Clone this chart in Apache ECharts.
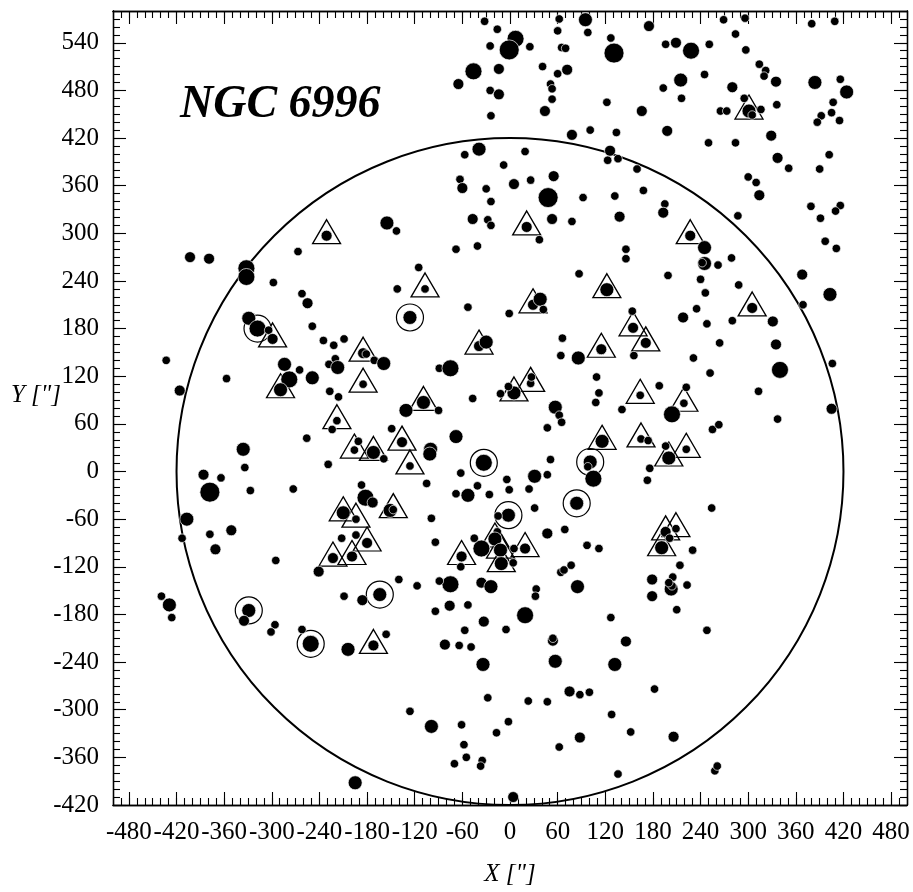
<!DOCTYPE html>
<html><head><meta charset="utf-8">
<script src="https://cdn.jsdelivr.net/npm/echarts@6/dist/echarts.min.js"></script>
<style>html,body{margin:0;padding:0;background:#fff}#c{width:913px;height:892px}</style>
</head><body><div id="c"></div>
<script>
// ---------- data ----------
const titleText = 'NGC 6996';
const xName = 'X ["]';
const yName = 'Y ["]';
const xRange = [-500, 500];
const yRange = [-420, 580];
const xTickLabels = [-480,-420,-360,-300,-240,-180,-120,-60,0,60,120,180,240,300,360,420,480];
const yTickLabels = [-420,-360,-300,-240,-180,-120,-60,0,60,120,180,240,300,360,420,480,540];
const fieldCircle = [0, 0, 420]; // centre x, centre y, radius (arcsec)

// stars: [x, y, magnitude class] (brighter = bigger dot)
const stars = [
[-231,297,13],[-403,270,13],[-379,268,13],[-332,256,11],[-332,245,11],[-267,277,14],[-298,238,14],
[-32,567,14],[-16,557,14],[62,570,14],[95,569,12],[60,555,14],[98,553,14],[7,545,11],[-1,531,10],
[-25,536,14],[25,535,14],[65,534,14],[70,533,14],[131,527,10],[127,546,14],[-46,504,11],[-14,507,13],
[41,510,14],[72,506,13],[60,501,14],[-65,488,13],[51,488,14],[53,482,14],[-25,480,14],[-14,475,13],
[53,469,14],[44,454,13],[-24,448,14],[122,465,14],[166,454,13],[78,424,13],[101,430,14],[134,427,14],
[-39,406,12],[-57,399,14],[19,403,14],[126,404,13],[123,392,14],[136,394,14],[160,381,14],[-8,386,14],
[-63,368,14],[-60,357,13],[-30,356,14],[5,362,13],[26,367,14],[55,372,13],[48,345,10],[-24,340,14],
[92,345,14],[132,347,14],[168,354,14],[-155,313,12],[-143,303,14],[-47,318,13],[-28,317,14],[-24,310,14],
[21,308,13],[53,318,13],[78,315,14],[138,321,13],[37,292,14],[-68,280,14],[-41,284,14],[146,280,14],
[146,268,14],[-115,257,14],[87,249,14],
[175,561,13],[269,569,14],[296,571,14],[380,564,14],[409,567,14],[196,538,14],[209,540,13],[228,530,11],
[251,538,14],[284,551,14],[297,531,14],[314,513,14],[322,505,14],[320,498,14],[335,491,13],[245,500,14],
[215,493,12],[193,483,14],[216,470,14],[280,484,13],[295,470,14],[301,454,12],[305,449,14],[316,456,14],
[265,454,14],[273,454,14],[336,462,14],[384,490,12],[416,494,14],[424,478,12],[407,465,14],[405,452,14],
[392,448,14],[387,440,14],[415,442,14],[198,429,13],[250,414,14],[284,414,14],[329,423,13],[337,395,13],
[351,382,14],[402,399,14],[390,381,14],[300,371,14],[310,364,14],[314,348,13],[195,337,14],[193,326,13],
[287,322,14],[379,334,14],[416,335,14],[410,328,14],[391,319,14],[397,290,14],[411,281,14],[227,297,13],
[245,282,12],[245,262,12],[242,263,14],[262,260,14],[279,269,14],[199,247,14],[240,242,14],[288,235,14],
[368,248,13],
[-262,224,14],[-255,212,13],[-249,183,14],[-329,193,12],[-318,180,11],[-304,178,14],[-299,167,13],
[-235,165,14],[-222,159,14],[-209,167,14],[-185,149,13],[-181,148,14],[-171,140,14],[-284,135,12],
[-265,128,14],[-278,116,11],[-249,118,12],[-289,103,12],[-228,135,14],[-220,142,14],[-217,131,12],
[-227,101,14],[-216,94,14],[-185,110,14],[-357,117,14],[-433,140,14],[-416,102,13],[-218,64,14],
[-224,53,14],[-256,42,14],[-336,28,12],[-334,5,14],[-386,-4,13],[-364,-8,14],[-378,-26,10],[-327,-24,14],
[-273,-22,14],[-229,9,14],[-196,27,14],[-191,38,14],[-172,24,12],[-187,-17,14],[-182,-33,11],[-173,-39,13],
[-210,-52,12],[-194,-60,14],[-407,-60,12],[-378,-79,14],[-351,-74,13],[-413,-84,14],[-371,-98,13],
[-212,-84,14],[-194,-80,14],[-180,-90,13],[-223,-109,13],[-199,-107,13],
[-142,230,14],[-107,230,14],[29,210,13],[38,217,12],[42,204,14],[122,229,12],[-53,207,14],[-1,199,14],
[-126,194,12],[154,202,14],[155,181,13],[156,146,14],[-39,158,13],[-30,163,12],[-159,136,12],[-89,130,14],
[-75,130,11],[115,154,13],[64,146,14],[86,143,12],[66,168,14],[109,119,14],[112,99,14],[108,87,14],
[141,78,14],[164,96,14],[-47,92,14],[5,99,12],[-2,107,14],[-12,98,14],[26,111,14],[27,119,14],[57,81,12],
[62,71,14],[65,62,14],[47,55,14],[-109,87,12],[-131,77,12],[-90,77,14],[-149,54,14],[-136,37,13],
[-68,44,12],[-100,28,12],[-101,22,12],[-126,7,14],[-159,16,14],[-33,11,11],[101,12,12],[98,6,14],
[105,-9,11],[116,38,12],[165,41,14],[51,15,14],[-62,-2,14],[-105,-15,14],[-41,-18,14],[-68,-28,14],
[-53,-30,12],[-26,-29,14],[-4,-10,14],[-1,-23,14],[24,-22,14],[31,-6,12],[47,-4,14],[-151,-49,12],
[-147,-48,14],[84,-40,12],[-2,-55,12],[-15,-56,14],[31,-46,14],[-99,-59,14],[47,-78,13],[69,-73,14],
[97,-93,14],[112,-97,14],[-94,-89,14],[-16,-76,14],[-19,-85,12],[-36,-97,11],[-45,-84,14],[-12,-99,12],
[19,-97,13],[5,-97,14],[-61,-107,13],
[246,225,14],[218,194,13],[235,205,14],[248,186,14],[280,190,14],[305,206,13],[331,189,13],[335,160,13],
[264,162,14],[231,143,14],[252,124,14],[340,128,11],[313,101,14],[369,210,14],[403,223,12],[406,136,14],
[405,79,13],[337,66,14],[171,162,13],[188,108,14],[222,106,14],[219,86,14],[204,72,11],[255,53,14],
[263,59,14],[174,39,14],[196,32,14],[200,17,12],[222,28,14],[176,4,14],[173,-11,14],[254,-46,14],
[196,-76,13],[209,-72,14],[201,-84,14],[191,-96,12],[230,-99,14],
[-295,-112,14],[-241,-126,13],[-439,-157,14],[-429,-168,12],[-426,-184,14],[-329,-175,12],[-335,-188,13],
[-296,-193,14],[-301,-202,14],[-262,-199,14],[-251,-217,11],[-204,-224,12],[-172,-219,13],[-209,-157,14],
[-186,-162,13],[-164,-155,12],[-195,-392,12],
[-62,-120,14],[-11,-116,12],[4,-115,14],[-140,-136,14],[-117,-144,14],[-75,-142,11],[-89,-138,14],
[-36,-140,13],[-24,-145,12],[-76,-169,13],[-53,-168,14],[-94,-176,14],[-33,-189,13],[-57,-200,14],
[-5,-199,14],[19,-181,11],[33,-148,14],[32,-157,14],[64,-127,14],[68,-124,14],[77,-118,14],[85,-145,12],
[127,-184,14],[146,-214,13],[132,-243,12],[54,-213,13],[54,-210,14],[57,-239,12],[-82,-218,13],
[-64,-219,14],[-49,-221,14],[-34,-243,12],[-156,-205,14],[75,-277,13],[88,-281,14],[100,-278,14],
[-28,-285,14],[23,-289,14],[47,-290,14],[-126,-302,14],[-99,-321,12],[-61,-319,14],[-2,-315,14],
[-17,-329,14],[128,-306,14],[152,-328,14],[88,-335,13],[62,-347,14],[-58,-344,14],[-55,-360,14],
[-70,-368,14],[-35,-364,14],[-37,-371,14],[136,-381,14],[4,-410,13],
[214,-118,14],[179,-136,13],[205,-133,14],[203,-148,12],[204,-144,14],[200,-140,14],[223,-143,14],
[179,-157,13],[210,-174,14],[248,-200,14],[182,-274,14],[206,-334,13],[258,-377,14],[261,-371,14]
];

// stars marked with an open circle
const ringStars = [
[-318,180],[-126,194],[-33,11],[101,12],[84,-40],[-2,-55],[-164,-155],[-329,-175],[-251,-217]
];

// stars marked with an open triangle
const triangleStars = [
[-231,297],[-299,167],[-185,149],[-289,103],[-185,110],[-218,64],[-196,27],[-172,24],[-210,-52],
[-194,-60],[-180,-90],[-223,-109],[-199,-107],[-172,-219],[-107,230],[21,308],[29,210],[122,229],
[-39,158],[155,181],[171,162],[115,154],[-109,87],[5,99],[26,111],[164,96],[219,86],[-136,37],[-126,7],
[116,38],[165,41],[200,17],[222,28],[-147,-48],[-19,-85],[-12,-99],[19,-97],[-61,-107],[-11,-116],
[301,454],[227,297],[305,206],[196,-76],[209,-72],[191,-96]
];

// ---------- rendering ----------
const FONT = '"Liberation Serif","Times New Roman",serif';
const magSize = {10:20, 11:17, 12:14, 13:11, 14:8.5};
const range = (a,b,s) => { const r=[]; for (let v=a; v<=b; v+=s) r.push(v); return r; };
const xMinor = range(xRange[0], xRange[1], 10);
const yMinor = range(yRange[0], yRange[1], 10);

function mkAxis(kind, pos, ticks, len, labels) {
  const rng = kind === 'x' ? xRange : yRange;
  const ax = {
    type: 'value', gridIndex: 0, position: pos, min: rng[0], max: rng[1],
    splitLine: {show: false},
    axisLine: {show: true, onZero: false, lineStyle: {color: '#000', width: 1.3}},
    axisTick: {show: true, inside: true, length: len, customValues: ticks, lineStyle: {color: '#000', width: 1.1}},
    axisLabel: {show: false},
    axisPointer: {show: false}
  };
  if (labels) {
    ax.axisLabel = {
      show: true, customValues: labels, hideOverlap: false,
      color: '#000', fontFamily: FONT, fontSize: 25,
      margin: kind === 'x' ? 15 : 14
    };
  }
  return ax;
}

const xAxes = [
  Object.assign(mkAxis('x','bottom', xTickLabels, 13, xTickLabels), {
    name: xName, nameLocation: 'middle', nameGap: 57, nameMoveOverlap: false,
    nameTextStyle: {fontFamily: FONT, fontStyle: 'italic', fontSize: 25, color: '#000'}
  }),
  mkAxis('x','bottom', xMinor, 7),
  mkAxis('x','top', xTickLabels, 13),
  mkAxis('x','top', xMinor, 7)
];
const yAxes = [
  Object.assign(mkAxis('y','left', yTickLabels, 13, yTickLabels), {
    name: yName, nameLocation: 'middle', nameRotate: 0, nameGap: 52, nameMoveOverlap: false,
    nameTextStyle: {fontFamily: FONT, fontStyle: 'italic', fontSize: 25, color: '#000', verticalAlign: 'bottom'}
  }),
  mkAxis('y','left', yMinor, 7),
  mkAxis('y','right', yTickLabels, 13),
  mkAxis('y','right', yMinor, 7)
];

const chart = echarts.init(document.getElementById('c'), null, {renderer: 'canvas'});
chart.setOption({
  animation: false,
  backgroundColor: '#fff',
  grid: {left: 113, right: 6, top: 11, bottom: 86, containLabel: false},
  xAxis: xAxes,
  yAxis: yAxes,
  graphic: [{
    type: 'text', left: 180, top: 82, z: 100,
    style: {text: titleText, font: 'italic bold 46px ' + FONT, fill: '#000'}
  }],
  series: [
    {
      type: 'custom', xAxisIndex: 0, yAxisIndex: 0, z: 1, silent: true,
      data: [fieldCircle],
      renderItem: function (params, api) {
        const c = api.coord([api.value(0), api.value(1)]);
        const e = api.coord([api.value(0) + api.value(2), api.value(1)]);
        return {type: 'circle', shape: {cx: c[0], cy: c[1], r: e[0] - c[0]},
                style: {fill: null, stroke: '#000', lineWidth: 2}};
      }
    },
    {
      type: 'scatter', xAxisIndex: 0, yAxisIndex: 0, z: 2, silent: true,
      data: triangleStars, symbol: 'triangle', symbolSize: [28, 24], symbolOffset: [0, -4],
      itemStyle: {opacity: 1, color: 'rgba(255,255,255,0)', borderColor: '#000', borderWidth: 1.3}
    },
    {
      type: 'scatter', xAxisIndex: 0, yAxisIndex: 0, z: 2, silent: true,
      data: ringStars, symbol: 'circle', symbolSize: 27,
      itemStyle: {opacity: 1, color: 'rgba(255,255,255,0)', borderColor: '#000', borderWidth: 1.2}
    },
    {
      type: 'scatter', xAxisIndex: 0, yAxisIndex: 0, z: 3, silent: true,
      data: stars, symbol: 'circle',
      symbolSize: function (v) { return magSize[v[2]]; },
      itemStyle: {opacity: 1, color: '#000', borderColor: 'rgba(255,255,255,0.85)', borderWidth: 0.8}
    }
  ]
});
</script>
</body></html>
